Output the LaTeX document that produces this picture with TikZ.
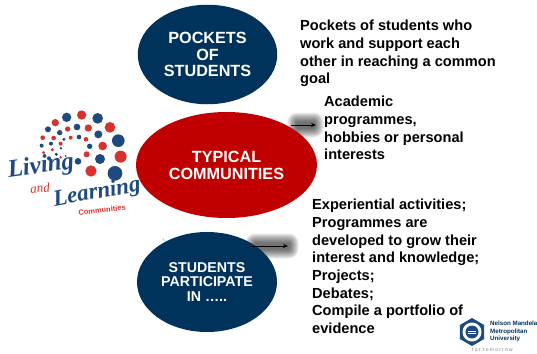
\documentclass[tikz,border=0pt]{standalone}
\usepackage{fontspec}
\setmainfont{Liberation Sans}
\newfontfamily\serifit{Liberation Serif}
\definecolor{navy}{HTML}{00335C}
\definecolor{deepred}{HTML}{C00000}
\definecolor{logored}{HTML}{D8322E}
\definecolor{logonavy}{HTML}{1F4A80}
\usetikzlibrary{shapes.geometric,arrows.meta}
\tikzset{
 x=1pt,y=-1pt,
 bubble/.style={ellipse,draw=none,inner sep=0pt,align=center,text=white,font=\bfseries\fontsize{16.2}{16.9}\selectfont},
 caption/.style={anchor=north west,inner sep=0pt,align=left,text=black,font=\bfseries\fontsize{14.6}{17.7}\selectfont},
 pointer/.style={-{Stealth[length=5pt,width=4pt]},black,line width=.7pt},
}
\newcommand{\softshadow}[4]{%
 \foreach \g in {.5,1.5,...,9.5}{\fill[black,opacity=.075,rounded corners=\g pt] (#1-\g,#2-\g) rectangle (#3+\g,#4+\g);}}
\begin{document}
\begin{tikzpicture}
\useasboundingbox (0,0) rectangle (537,353);
\fill[white] (0,0) rectangle (537,353);
% logo dots
\begin{scope}[shift={(0,100)},x=.3333pt,y=-.3333pt]
\foreach \a/\b/\r in {200/52/14,293/55/16,355/122/19,345/220/22,300/177/15,295/103/12,231/81/10,144/88/9,179/98/8,192/118/5,237/111/7,269/139/8,234/184/10,125/137/6,153/131/6,183/145/4,169/163/5,147/175/6,197/168/3}
 {\fill[logonavy] (\a,\b) circle[radius=\r];}
\foreach \a/\b/\r in {245/45/14,330/82/16,362/170/18,273/213/17,308/138/13,265/84/11,166/68/11,203/87/8,128/113/7,161/114/7,212/113/6,258/118/7,260/163/9,182/131/6,157/149/5,131/158/5,182/172/4}
 {\fill[logored] (\a,\b) circle[radius=\r];}
\end{scope}
\node[inner sep=0pt,rotate=8,text=logonavy] (lw1) at (41,167) {\serifit\itshape\bfseries\fontsize{25}{25}\selectfont Living};
\node[inner sep=0pt,rotate=5,text=logored] (lw2) at (40,188) {\serifit\itshape\fontsize{13}{13}\selectfont and};
\node[inner sep=0pt,rotate=10,text=logonavy] (lw3) at (97,193) {\serifit\itshape\bfseries\fontsize{23}{23}\selectfont Learning};
\node[inner sep=0pt,rotate=7,text=logored] (lw4) at (102,210) {\bfseries\fontsize{7.5}{8}\selectfont Communities};
% shadows
\softshadow{297}{122}{314}{128}
\softshadow{255}{243}{289}{249}
% speck beside the lower ellipse
\draw[gray!70,line width=.5pt] (162.5,238.5) -- (164.5,240.5);
% ellipses
\node[bubble,fill=navy,minimum width=139.5pt,minimum height=99.5pt] (pockets) at (207.5,54.5) {POCKETS\\OF\\STUDENTS};
\node[bubble,fill=deepred,minimum width=181pt,minimum height=106pt] (typical) at (226.5,165) {TYPICAL\\COMMUNITIES};
\node[bubble,fill=navy,minimum width=140pt,minimum height=100pt,font=\bfseries\fontsize{14.2}{14.9}\selectfont] (part) at (207,282) {STUDENTS\\PARTICIPATE\\IN …..};
% connectors
\coordinate (c1s) at (291,125);\coordinate (c1e) at (316,125);
\coordinate (c2s) at (250,246);\coordinate (c2e) at (288,246);
\draw[pointer] (c1s) -- (c1e);
\draw[pointer] (c2s) -- (c2e);
% captions
\node[caption] (t1) at (300,20) {Pockets of students who\\work and support each\\other in reaching a common\\goal};
\node[caption] (t2) at (324,96) {Academic\\programmes,\\hobbies or personal\\interests};
\node[caption] (t3) at (312,199) {Experiential activities;\\Programmes are\\developed to grow their\\interest and knowledge;\\Projects;\\Debates;\\Compile a portfolio of\\evidence};
% university logo
\node[regular polygon,regular polygon sides=6,shape border rotate=30,fill=logonavy,minimum size=28pt,inner sep=0pt] (hex) at (472,332) {};
\fill[white] (472,332) circle[radius=9.5];
\fill[logonavy] (472,332) circle[radius=6.5];
\draw[white,line width=.6pt] (468,331) -- (476,331) (468,333.5) -- (476,333.5);
\node[anchor=west,inner sep=0pt,align=left,text=navy,font=\bfseries\fontsize{6.2}{7.5}\selectfont] (uni) at (490,331.5) {Nelson Mandela\\Metropolitan\\University};
\node[anchor=west,inner sep=0pt,text=gray,font=\fontsize{5}{6}\selectfont\addfontfeature{LetterSpace=25}] (motto) at (472,350) {for tomorrow};
\end{tikzpicture}
\end{document}
